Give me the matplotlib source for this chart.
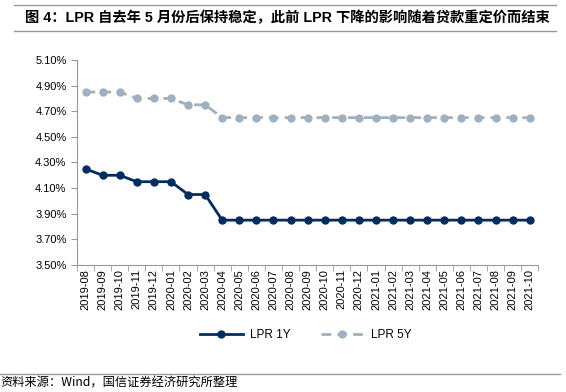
import matplotlib.pyplot as plt
from matplotlib.lines import Line2D

plt.rcParams['font.family'] = ['Liberation Sans', 'Noto Sans CJK SC', 'DejaVu Sans']

months = ["2019-08", "2019-09", "2019-10", "2019-11", "2019-12",
          "2020-01", "2020-02", "2020-03", "2020-04", "2020-05", "2020-06",
          "2020-07", "2020-08", "2020-09", "2020-10", "2020-11", "2020-12",
          "2021-01", "2021-02", "2021-03", "2021-04", "2021-05", "2021-06",
          "2021-07", "2021-08", "2021-09", "2021-10"]
lpr_1y = [4.25, 4.20, 4.20, 4.15, 4.15, 4.15, 4.05, 4.05] + [3.85] * 19
lpr_5y = [4.85, 4.85, 4.85, 4.80, 4.80, 4.80, 4.75, 4.75] + [4.65] * 19
yticks = [3.5, 3.7, 3.9, 4.1, 4.3, 4.5, 4.7, 4.9, 5.1]

navy = "#002d5e"
grey = "#9fb0c0"

fig = plt.figure(figsize=(5.66, 3.92), dpi=100)
ax = fig.add_axes([0.136, 0.324, 0.815, 0.523])

x = list(range(len(months)))
ax.plot(x, lpr_1y, color=navy, lw=2, marker="o", ms=5, label="LPR 1Y")
ax.plot(x, lpr_5y, color=grey, lw=2, ls=(0, (3.5, 2.2)), marker="o", ms=5, label="LPR 5Y")

ax.set_ylim(3.5, 5.1)
ax.set_yticks(yticks)
ax.set_yticklabels([f"{v:.2f}%" for v in yticks], fontsize=8)
ax.set_xlim(-0.5, len(months) - 0.5)
ax.set_xticks(x)
ax.set_xticklabels(months, rotation=90, fontsize=8)
ax.tick_params(axis="x", length=0, pad=3)
ax.set_xticks([i - 0.5 for i in range(len(months) + 1)], minor=True)
ax.tick_params(axis="x", which="minor", length=4, color="#999999")
ax.tick_params(axis="y", length=4, color="#999999")
for s in ["top", "right"]:
    ax.spines[s].set_visible(False)
for s in ["left", "bottom"]:
    ax.spines[s].set_color("#999999")

ax.legend(loc="center", bbox_to_anchor=(0.54, 0.145), bbox_transform=fig.transFigure,
          ncol=2, frameon=False, fontsize=8.5, handlelength=3.6, columnspacing=2.6,
          handletextpad=0.6)

fig.add_artist(Line2D([0.025, 0.982], [0.986, 0.986], color="#999999", lw=1))
fig.add_artist(Line2D([0.025, 0.982], [0.922, 0.922], color="#999999", lw=1))
fig.text(0.044, 0.954, "图 4：LPR 自去年 5 月份后保持稳定，此前 LPR 下降的影响随着贷款重定价而结束",
         fontsize=10.3, fontweight="bold", va="center",
         family=["Liberation Sans", "Noto Sans CJK SC"])
fig.add_artist(Line2D([0.0, 0.99], [0.046, 0.046], color="#999999", lw=1))
fig.text(0.0, 0.022, "资料来源：Wind，国信证券经济研究所整理", fontsize=8.8, va="center",
         family=["Noto Sans CJK SC", "Liberation Sans"])

fig.savefig("out.png", dpi=100)
